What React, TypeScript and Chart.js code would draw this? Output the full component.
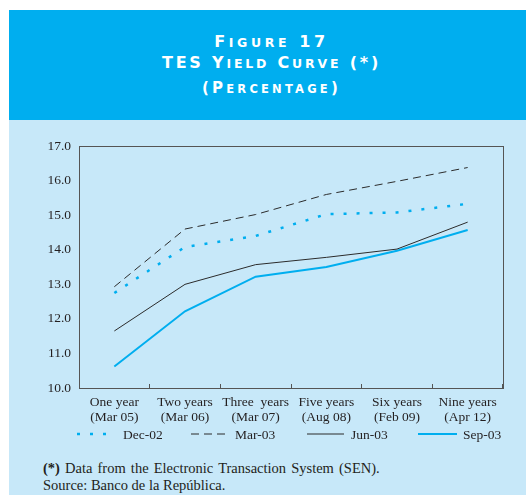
import React, { useEffect, useRef } from "react";
import { Chart, registerables } from "chart.js";

Chart.register(...registerables);

const categories: string[][] = [
  ["One year", "(Mar 05)"],
  ["Two years", "(Mar 06)"],
  ["Three  years", "(Mar 07)"],
  ["Five years", "(Aug 08)"],
  ["Six years", "(Feb 09)"],
  ["Nine years", "(Apr 12)"],
];

const seriesNames = ["Dec-02", "Mar-03", "Jun-03", "Sep-03"];
const dec02 = [12.75, 14.08, 14.4, 15.03, 15.08, 15.33];
const mar03 = [12.93, 14.6, 15.02, 15.6, 15.98, 16.38];
const jun03 = [11.65, 13.0, 13.57, 13.78, 14.02, 14.8];
const sep03 = [10.62, 12.22, 13.22, 13.5, 13.97, 14.57];

const yTicksMin = 10;
const yTicksMax = 17;

const CYAN = "#00aeef";
const DARK = "#2b2b2b";
const BG = "#c7e8f9";

const styles = [
  { color: CYAN, width: 2.5, dash: [3, 10] },
  { color: DARK, width: 1, dash: [8, 5] },
  { color: DARK, width: 1, dash: [] as number[] },
  { color: CYAN, width: 2, dash: [] as number[] },
];

const legendPos = [
  { x1: 68, x2: 99, tx: 114 },
  { x1: 182, x2: 216, tx: 226 },
  { x1: 298, x2: 335, tx: 342 },
  { x1: 409, x2: 448, tx: 454 },
];

const borderPlugin = {
  id: "areaBorder",
  afterDraw(chart: any) {
    const { ctx, chartArea } = chart;
    ctx.save();
    ctx.strokeStyle = "#555555";
    ctx.lineWidth = 1;
    ctx.strokeRect(
      Math.round(chartArea.left) + 0.5,
      Math.round(chartArea.top) + 0.5,
      Math.round(chartArea.right - chartArea.left),
      Math.round(chartArea.bottom - chartArea.top)
    );
    ctx.restore();
  },
};

function SmallCaps({ text, big, small }: { text: string; big: number; small: number }) {
  const parts: React.ReactNode[] = [];
  let i = 0;
  while (i < text.length) {
    const isLower = text[i] !== text[i].toUpperCase();
    let j = i;
    while (j < text.length && (text[j] !== text[j].toUpperCase()) === isLower) j++;
    const chunk = text.slice(i, j);
    parts.push(
      <span key={i} style={{ fontSize: isLower ? small : big }}>
        {isLower ? chunk.toUpperCase() : chunk}
      </span>
    );
    i = j;
  }
  return <>{parts}</>;
}

export default function App() {
  const ref = useRef<HTMLCanvasElement>(null);

  useEffect(() => {
    const values = [dec02, mar03, jun03, sep03];
    const chart = new Chart(ref.current!, {
      type: "line",
      data: {
        labels: categories,
        datasets: values.map((v, i) => ({
          label: seriesNames[i],
          data: v,
          borderColor: styles[i].color,
          backgroundColor: styles[i].color,
          borderWidth: styles[i].width,
          borderDash: styles[i].dash,
          pointRadius: 0,
          tension: 0,
          fill: false,
        })),
      },
      options: {
        animation: false,
        responsive: false,
        devicePixelRatio: 1,
        layout: { padding: { top: 14, right: 23, left: 0, bottom: 0 } },
        plugins: { legend: { display: false }, tooltip: { enabled: false } },
        scales: {
          x: {
            offset: true,
            border: { display: false },
            grid: {
              offset: true,
              drawOnChartArea: false,
              drawTicks: true,
              tickLength: -4,
              color: "#555555",
            },
            ticks: {
              color: "#231f20",
              padding: 11,
              font: { family: "Liberation Serif", size: 13.5, lineHeight: 1.1 },
              maxRotation: 0,
              autoSkip: false,
            },
            afterFit(scale: any) {
              scale.height = 42;
            },
          },
          y: {
            min: yTicksMin,
            max: yTicksMax,
            border: { display: false },
            grid: { display: false, drawTicks: false },
            ticks: {
              stepSize: 1,
              color: "#231f20",
              padding: 8,
              font: { family: "Liberation Serif", size: 13.5 },
              callback: (v: any) => Number(v).toFixed(1),
            },
            afterFit(scale: any) {
              scale.width = 70;
            },
          },
        },
      },
      plugins: [borderPlugin],
    });
    return () => chart.destroy();
  }, []);

  const headLine: React.CSSProperties = {
    position: "absolute",
    left: 0,
    right: 0,
    paddingLeft: 8,
    letterSpacing: 3,
    whiteSpace: "nowrap",
  };

  return (
    <div
      style={{
        position: "absolute",
        left: 9,
        top: 10,
        width: 517,
        height: 485,
        background: BG,
        fontFamily: "Liberation Serif",
        color: "#231f20",
      }}
    >
      <div
        style={{
          height: 110,
          background: CYAN,
          color: "#ffffff",
          textAlign: "center",
          fontFamily: "DejaVu Sans",
          fontWeight: "bold",
        }}
      >
        <div style={{ ...headLine, top: 22, letterSpacing: 3.6 }}>
          <SmallCaps text="Figure 17" big={16} small={12.5} />
        </div>
        <div style={{ ...headLine, top: 43, letterSpacing: 2.8 }}>
          <SmallCaps text="TES Yield Curve (*)" big={16} small={12.5} />
        </div>
        <div style={{ ...headLine, top: 68, letterSpacing: 3.2 }}>
          <SmallCaps text="(Percentage)" big={15} small={11.5} />
        </div>
      </div>
      <canvas
        ref={ref}
        width={517}
        height={300}
        style={{ position: "absolute", left: 0, top: 120, width: 517, height: 300 }}
      />
      <svg
        width={517}
        height={20}
        style={{ position: "absolute", left: 0, top: 414 }}
      >
        {seriesNames.map((name, i) => (
          <g key={name}>
            <line
              x1={legendPos[i].x1}
              x2={legendPos[i].x2}
              y1={10}
              y2={10}
              stroke={styles[i].color}
              strokeWidth={styles[i].width}
              strokeDasharray={styles[i].dash.length ? styles[i].dash.join(" ") : undefined}
            />
            <text
              x={legendPos[i].tx}
              y={14.5}
              fontFamily="Liberation Serif"
              fontSize={13.5}
              fill="#231f20"
            >
              {name}
            </text>
          </g>
        ))}
      </svg>
      <div
        style={{
          position: "absolute",
          left: 34,
          top: 450,
          fontSize: 14.5,
          lineHeight: "17px",
          wordSpacing: 1.5,
          whiteSpace: "nowrap",
        }}
      >
        <div>
          <b>(*)</b> Data from the Electronic Transaction System (SEN).
        </div>
        <div style={{ wordSpacing: 0 }}>Source: Banco de la República.</div>
      </div>
    </div>
  );
}
